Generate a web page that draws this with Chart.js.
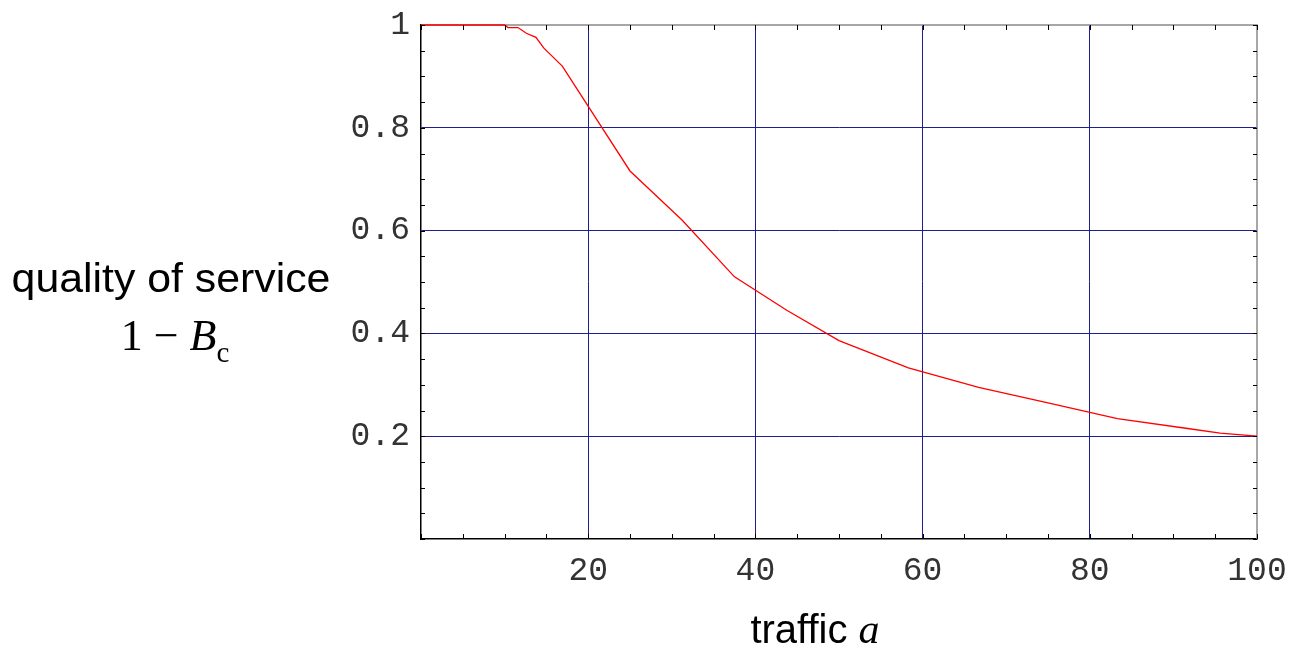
<!DOCTYPE html>
<html>
<head>
<meta charset="utf-8">
<script src="https://cdn.jsdelivr.net/npm/chart.js@4"></script>
<style>
  html, body { margin: 0; padding: 0; background: #fff; }
  #wrap { position: relative; width: 1292px; height: 652px; }
  .lbl { position: absolute; text-align: center; white-space: nowrap; color: #000; }
  .sans { font-family: "Liberation Sans", Arial, sans-serif; font-size: 40px; line-height: 40px; }
  .serif { font-family: "Liberation Serif", "Times New Roman", serif; }
</style>
</head>
<body>
<div id="wrap">
  <canvas id="chart"></canvas>
  <div class="lbl sans" style="left:0; width:342px; top:258px; transform:scaleX(1.07); transform-origin:171px 0;">quality of service</div>
  <div class="lbl serif" style="left:0; width:350px; top:314px; font-size:44px; line-height:44px;">1 &minus; <i>B</i><span style="font-size:29px; position:relative; top:12px;">c</span></div>
  <div class="lbl sans" style="left:715px; width:200px; top:609px;">traffic <i class="serif" style="font-size:42px;">a</i></div>
</div>
<script>
// traffic a (Erlang)
const traffic = [0, 10, 10.4, 11.6, 12.6, 13.75, 14.7, 16.9, 25, 31.25, 37.5, 43.75, 50, 58.3, 66.7, 75, 83.3, 91.7, 95.6, 100];
// quality of service 1 - Bc
const quality = [1, 1, 0.995, 0.995, 0.984, 0.976, 0.955, 0.92, 0.716, 0.62, 0.51, 0.445, 0.386, 0.333, 0.295, 0.265, 0.234, 0.215, 0.206, 0.2];

const xMajor = [20, 40, 60, 80, 100];
const yMajor = [0.2, 0.4, 0.6, 0.8, 1];

const gridBlue = '#1e1e8c';

function isMajor(v, list) {
  return list.some(m => Math.abs(m - v) < 1e-6);
}

// keep the plot box where it is in the picture, labels may overhang
function fixSize(prop, size) {
  return s => {
    s[prop] = size;
    s.paddingTop = s.paddingBottom = s.paddingLeft = s.paddingRight = 0;
  };
}

// gray top/right frame, drawn under the curve
const frame = {
  id: 'frame',
  beforeDatasetsDraw(chart) {
    const c = chart.ctx, a = chart.chartArea;
    c.save();
    c.strokeStyle = '#8a8a8a';
    c.lineWidth = 1.5;
    c.beginPath();
    c.moveTo(a.left, a.top); c.lineTo(a.right, a.top); c.lineTo(a.right, a.bottom);
    c.stroke();
    c.restore();
  }
};

// little inward tick marks on all four sides
const innerTicks = {
  id: 'innerTicks',
  afterDraw(chart) {
    const c = chart.ctx, a = chart.chartArea;
    const xs = chart.scales.x, ys = chart.scales.y;
    c.save();
    c.strokeStyle = '#000';
    c.lineWidth = 1;
    c.beginPath();
    xs.ticks.forEach(t => {
      const px = Math.round(xs.getPixelForValue(t.value)) + 0.5;
      c.moveTo(px, a.bottom); c.lineTo(px, a.bottom - 5);
      c.moveTo(px, a.top); c.lineTo(px, a.top + 5);
    });
    ys.ticks.forEach(t => {
      const py = Math.round(ys.getPixelForValue(t.value)) + 0.5;
      c.moveTo(a.left, py); c.lineTo(a.left + 4, py);
      c.moveTo(a.right, py); c.lineTo(a.right - 4, py);
    });
    c.stroke();
    c.restore();
  }
};

const ctx = document.getElementById('chart');

new Chart(ctx, {
  type: 'line',
  data: {
    datasets: [{
      data: traffic.map((a, i) => ({ x: a, y: quality[i] })),
      borderColor: '#ff0000',
      borderWidth: 1.3,
      pointRadius: 0,
      tension: 0,
      fill: false,
      clip: 3
    }]
  },
  options: {
    responsive: true,
    maintainAspectRatio: false,
    animation: false,
    layout: { padding: { top: 25, right: 35, left: 0, bottom: 0 } },
    plugins: { legend: { display: false }, tooltip: { enabled: false } },
    scales: {
      x: {
        type: 'linear', min: 0, max: 100,
        afterFit: fixSize('height', 113),
        border: { color: '#000', width: 1.5 },
        grid: {
          drawTicks: false,
          color: c => (isMajor(c.tick.value, [20, 40, 60, 80]) ? gridBlue : 'rgba(0,0,0,0)'),
          lineWidth: 1
        },
        ticks: {
          stepSize: 5, autoSkip: false, maxRotation: 0, padding: 12,
          color: '#333',
          font: { family: 'Liberation Mono', size: 33 },
          callback: v => (isMajor(v, xMajor) ? String(v) : '')
        }
      },
      y: {
        type: 'linear', min: 0, max: 1,
        afterFit: fixSize('width', 421),
        border: { color: '#000', width: 1.5 },
        grid: {
          drawTicks: false,
          color: c => (isMajor(c.tick.value, [0.2, 0.4, 0.6, 0.8]) ? gridBlue : 'rgba(0,0,0,0)'),
          lineWidth: 1
        },
        ticks: {
          stepSize: 0.05, autoSkip: false, padding: 11,
          color: '#333',
          font: { family: 'Liberation Mono', size: 33 },
          callback: v => {
            if (!isMajor(v, yMajor)) return '';
            return Math.abs(v - 1) < 1e-6 ? '1' : v.toFixed(1);
          }
        }
      }
    }
  },
  plugins: [frame, innerTicks]
});
</script>
</body>
</html>
